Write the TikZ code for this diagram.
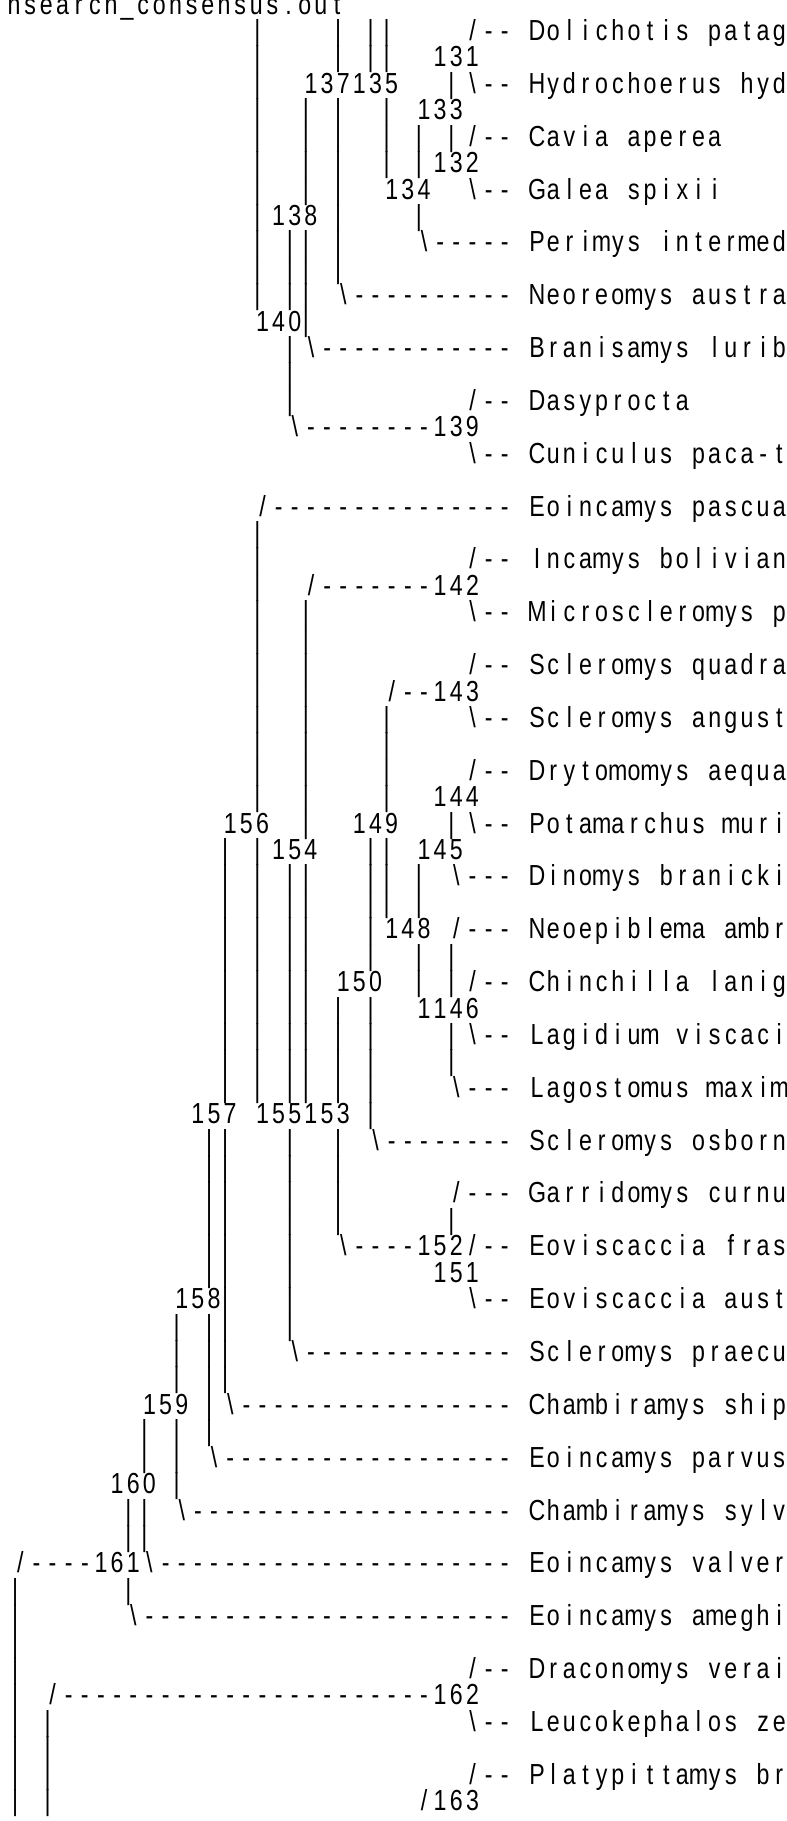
\documentclass[tikz,border=0pt]{standalone}
\usepackage{fontspec}
\newfontfamily\treefont{Liberation Sans}[FakeStretch=0.8]
\newlength\cellw
\setlength\cellw{16.15pt}
\newcommand\xzero{12.2}
\newcommand\yzero{40.5}
\newcommand\rowh{26.42}
\ExplSyntaxOn
\NewDocumentCommand \cells { m }
  { \exp_args:No \str_map_inline:nn {#1} { \makebox [ \cellw ] [ c ] { ##1 } } }
\ExplSyntaxOff
\newcommand\trow[3]{%
  \if\relax\detokenize{#2}\relax\else
    \foreach \colno in {#2} {\node[cell] (b#1-\colno) at ({\xzero+\colno*16.15},{-(\yzero+(#1-1)*\rowh)}) {|};}%
  \fi
  \if\relax\detokenize{#3}\relax\else
    \foreach \colno/\txt in {#3} {\node[cell] (t#1-\colno) at ({\xzero+\colno*16.15},{-(\yzero+(#1-1)*\rowh)}) {\cells{\txt}};}%
  \fi}

\begin{document}
\begin{tikzpicture}[x=1pt,y=1pt,
  cell/.style={font=\treefont\fontsize{29pt}{30pt}\selectfont,inner sep=0pt,outer sep=0pt,anchor=base west}]
\useasboundingbox (0,0) rectangle (787,-1821);
\clip (0,0) rectangle (787,-1821);
\node[cell] (title) at (6,-14) {\cells{hsearch_consensus.out}};
\trow{1}{15,20,22,23}{28/{/-- Dolichotis patag}}
\trow{2}{15,20,22,23}{26/131}
\trow{3}{15,27}{18/137135, 28/{\-- Hydrochoerus hyd}}
\trow{4}{15,18,20,23}{25/133}
\trow{5}{15,18,20,23,25,27}{28/{/-- Cavia aperea}}
\trow{6}{15,18,20,23,25}{26/132}
\trow{7}{15,18,20}{23/134, 28/{\-- Galea spixii}}
\trow{8}{15,20,25}{16/138}
\trow{9}{15,17,18,20}{25/{\----- Perimys intermed}}
\trow{10}{15,17,18,20}{}
\trow{11}{15,17,18}{20/{\---------- Neoreomys austra}}
\trow{12}{18}{15/140}
\trow{13}{17}{18/{\------------ Branisamys lurib}}
\trow{14}{17}{}
\trow{15}{17}{28/{/-- Dasyprocta}}
\trow{16}{}{17/{\--------139}}
\trow{17}{}{28/{\-- Cuniculus paca-t}}
\trow{19}{}{15/{/--------------- Eoincamys pascua}}
\trow{20}{15}{}
\trow{21}{15}{28/{/-- Incamys bolivian}}
\trow{22}{15}{18/{/-------142}}
\trow{23}{15,18}{28/{\-- Microscleromys p}}
\trow{24}{15,18}{}
\trow{25}{15,18}{28/{/-- Scleromys quadra}}
\trow{26}{15,18}{23/{/--143}}
\trow{27}{15,18,23}{28/{\-- Scleromys angust}}
\trow{28}{15,18,23}{}
\trow{29}{15,18,23}{28/{/-- Drytomomys aequa}}
\trow{30}{15,18,23}{26/144}
\trow{31}{18,27}{13/156, 21/149, 28/{\-- Potamarchus muri}}
\trow{32}{13,15,22,23}{16/154, 25/145}
\trow{33}{13,15,17,18,22,23,25}{27/{\--- Dinomys branicki}}
\trow{34}{13,15,17,18,22,23,25}{}
\trow{35}{13,15,17,18,22}{23/148, 27/{/--- Neoepiblema ambr}}
\trow{36}{13,15,17,18,22,25,27}{}
\trow{37}{13,15,17,18,25,27}{20/150, 28/{/-- Chinchilla lanig}}
\trow{38}{13,15,17,18,20,22}{25/1146}
\trow{39}{13,15,17,18,20,22,27}{28/{\-- Lagidium viscaci}}
\trow{40}{13,15,17,18,20,22,27}{}
\trow{41}{13,15,17,18,20,22}{27/{\--- Lagostomus maxim}}
\trow{42}{22}{11/157, 15/155153}
\trow{43}{12,13,17,20}{22/{\-------- Scleromys osborn}}
\trow{44}{12,13,17,20}{}
\trow{45}{12,13,17,20}{27/{/--- Garridomys curnu}}
\trow{46}{12,13,17,20,27}{}
\trow{47}{12,13,17}{20/{\----152/-- Eoviscaccia fras}}
\trow{48}{12,13,17}{26/151}
\trow{49}{13,17}{10/158, 28/{\-- Eoviscaccia aust}}
\trow{50}{10,12,13,17}{}
\trow{51}{10,12,13}{17/{\------------- Scleromys praecu}}
\trow{52}{10,12,13}{}
\trow{53}{12}{8/159, 13/{\----------------- Chambiramys ship}}
\trow{54}{8,10,12}{}
\trow{55}{8,10}{12/{\------------------ Eoincamys parvus}}
\trow{56}{10}{6/160}
\trow{57}{7,8}{10/{\-------------------- Chambiramys sylv}}
\trow{58}{7,8}{}
\trow{59}{}{0/{/----161\---------------------- Eoincamys valver}}
\trow{60}{0,7}{}
\trow{61}{0}{7/{\----------------------- Eoincamys ameghi}}
\trow{62}{0}{}
\trow{63}{0}{28/{/-- Draconomys verai}}
\trow{64}{0}{2/{/-----------------------162}}
\trow{65}{0,2}{28/{\-- Leucokephalos ze}}
\trow{66}{0,2}{}
\trow{67}{0,2}{28/{/-- Platypittamys br}}
\trow{68}{0,2}{25/{/163}}
\end{tikzpicture}
\end{document}
